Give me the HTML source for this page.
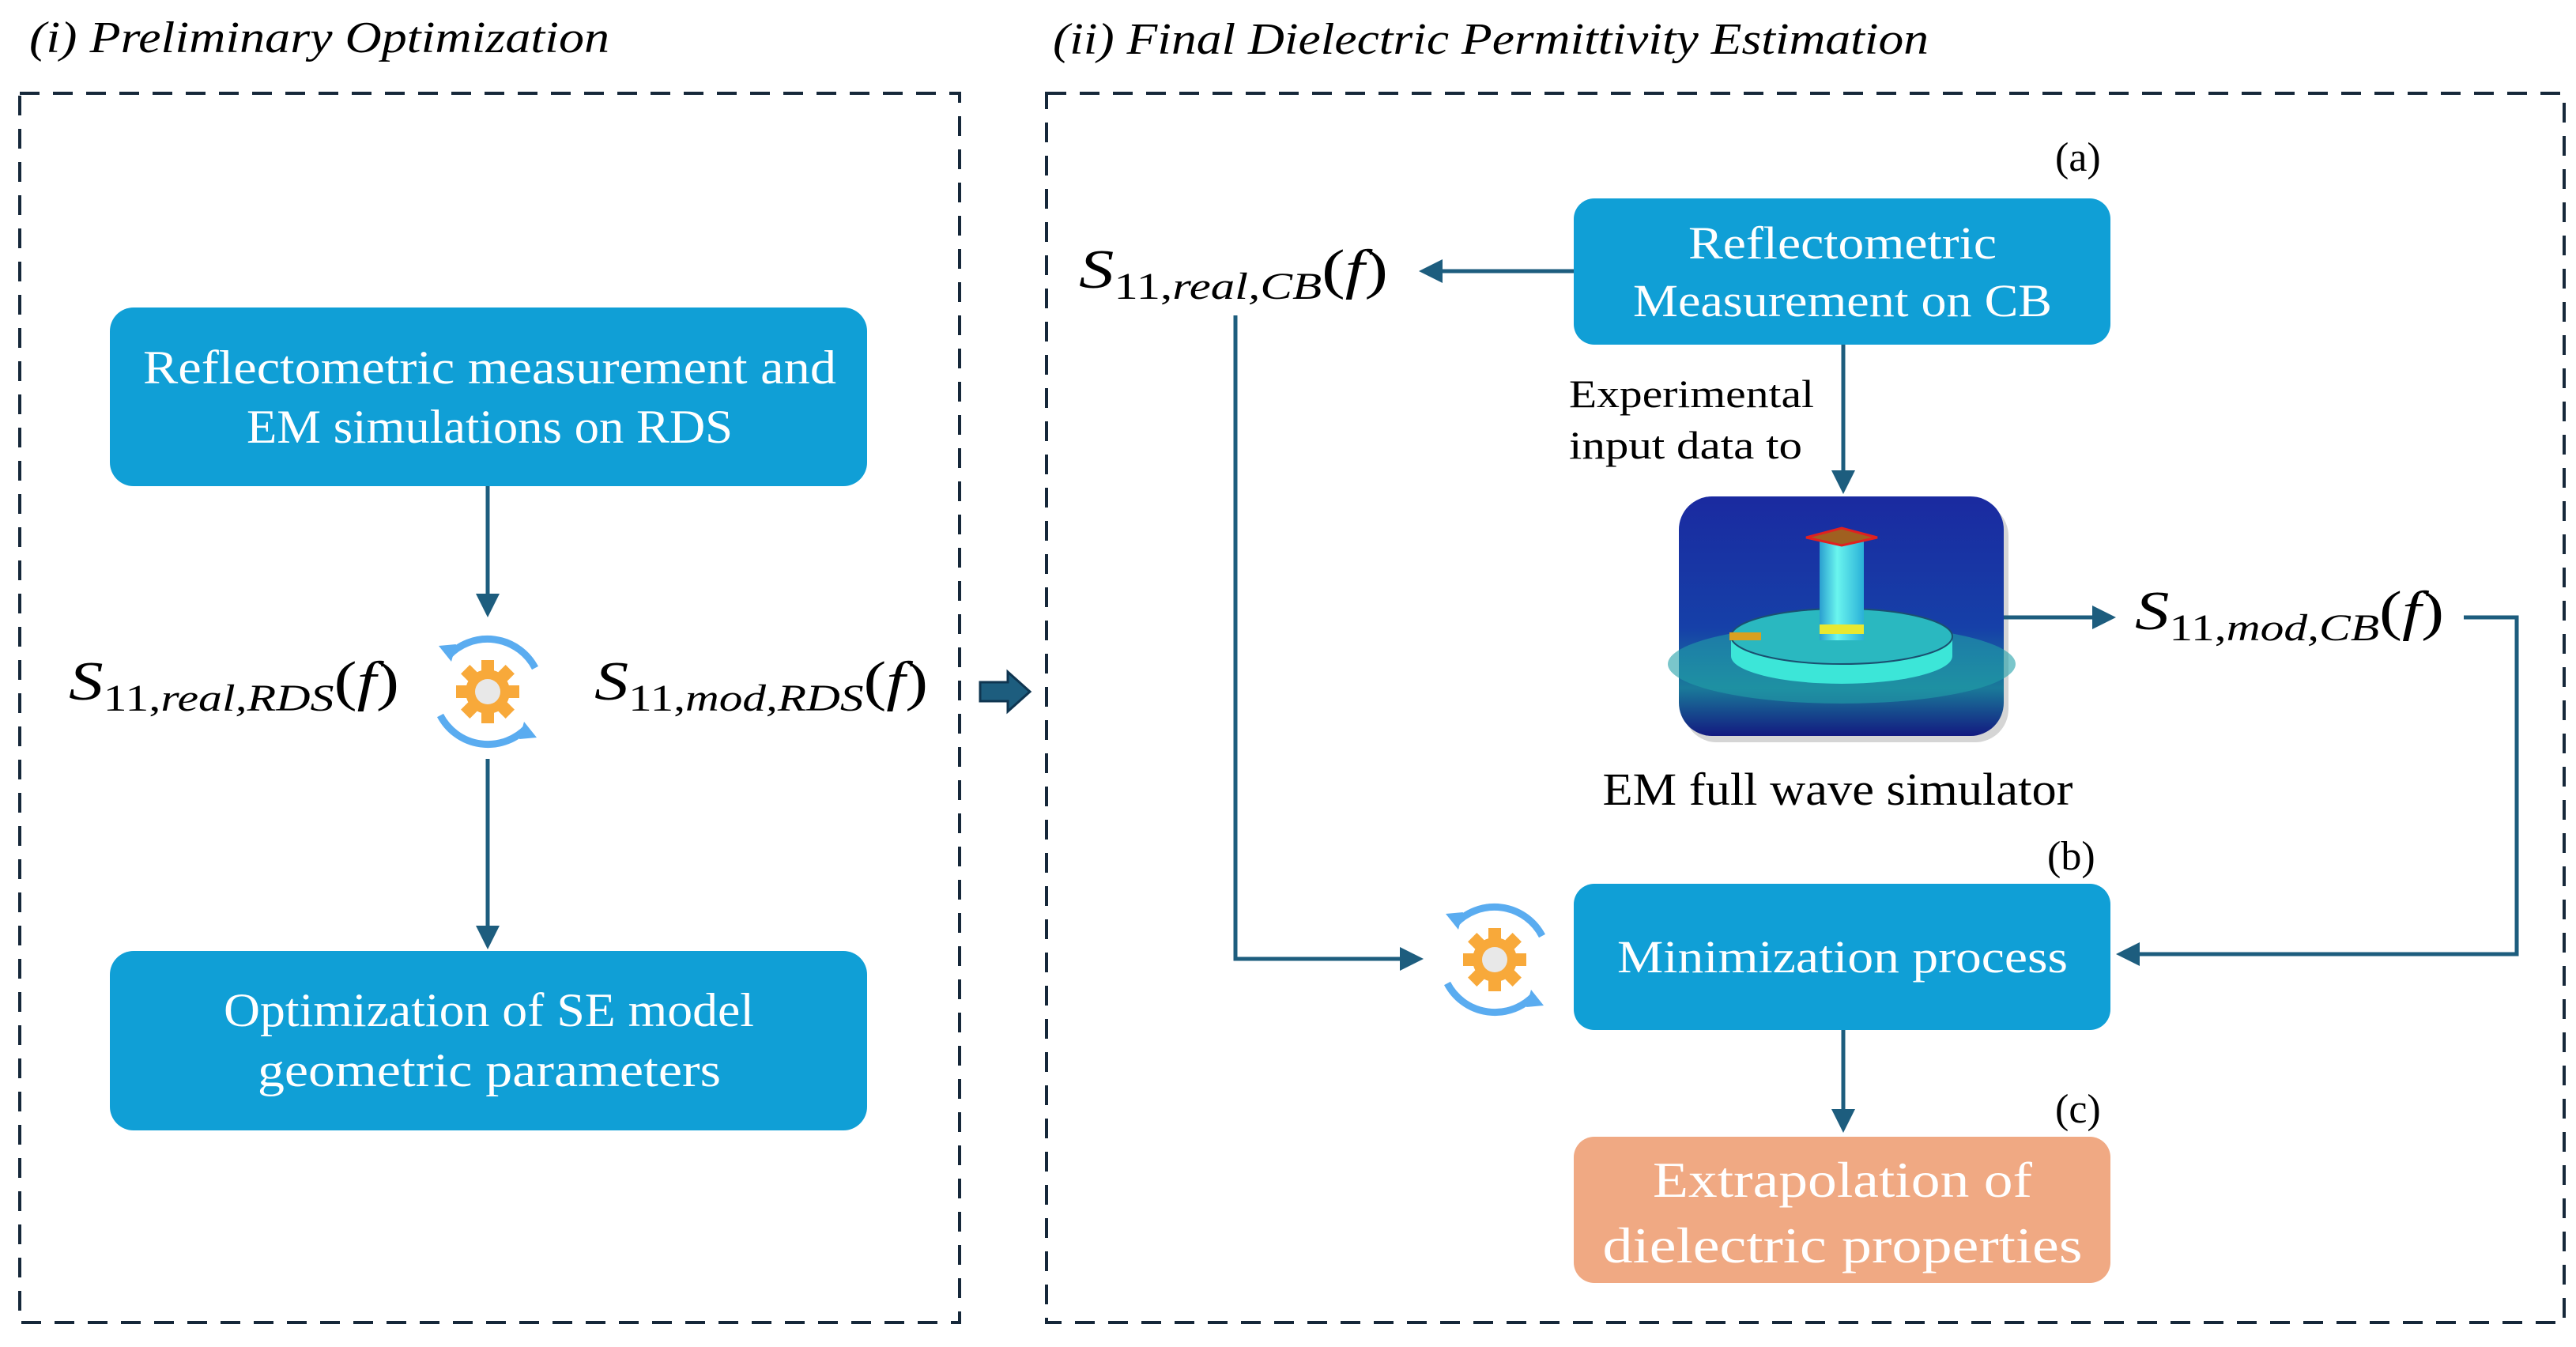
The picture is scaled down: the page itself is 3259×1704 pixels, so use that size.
<!DOCTYPE html>
<html><head><meta charset="utf-8"><style>html,body{margin:0;padding:0;background:#fff}svg{display:block}</style></head>
<body>
<svg width="3259" height="1704" viewBox="0 0 3259 1704" xmlns="http://www.w3.org/2000/svg" font-family="Liberation Serif, serif">
<defs>
<marker id="ah" markerWidth="6" markerHeight="6" refX="5" refY="3" orient="auto" markerUnits="strokeWidth"><path d="M0,0 L6,3 L0,6 Z" fill="#1d5d7e"/></marker>
<linearGradient id="sim" x1="0" y1="0" x2="0" y2="1"><stop offset="0" stop-color="#1a2aa0"/><stop offset="0.55" stop-color="#1640a8"/><stop offset="0.8" stop-color="#1a7a9a"/><stop offset="1" stop-color="#131a80"/></linearGradient>
<linearGradient id="cyl" x1="0" y1="0" x2="1" y2="0"><stop offset="0" stop-color="#2a9fd0"/><stop offset="0.4" stop-color="#6af5ee"/><stop offset="1" stop-color="#2ab0d8"/></linearGradient>
<g id="gear">
<path d="M-50,-45 A68,68 0 0 1 60,-30" fill="none" stroke="#5aacf0" stroke-width="9"/>
<path d="M50,45 A68,68 0 0 1 -60,30" fill="none" stroke="#5aacf0" stroke-width="9"/>
<path d="M-62,-58 l22,-2 l-6,22 z" fill="#5aacf0"/>
<path d="M62,58 l-22,2 l6,-22 z" fill="#5aacf0"/>
<circle r="28" fill="#f8a93a"/>
<g fill="#f8a93a"><rect x="-8" y="-40" width="16" height="80"/><rect x="-40" y="-8" width="80" height="16"/><rect x="-8" y="-40" width="16" height="80" transform="rotate(45)"/><rect x="-8" y="-40" width="16" height="80" transform="rotate(-45)"/></g>
<circle r="16" fill="#e8e8e8"/>
</g>
</defs>

<!-- Panel i -->
<text x="37" y="66" font-size="56" font-style="italic" textLength="734" lengthAdjust="spacingAndGlyphs">(i) Preliminary Optimization</text>
<rect x="25" y="118" width="1189" height="1555" fill="none" stroke="#16283a" stroke-width="4" stroke-dasharray="25,17"/>
<rect x="139" y="389" width="958" height="226" rx="30" fill="#109fd6"/>
<text x="181" y="485" font-size="60" fill="#fff" textLength="877" lengthAdjust="spacingAndGlyphs">Reflectometric measurement and</text>
<text x="312" y="560" font-size="60" fill="#fff" textLength="615" lengthAdjust="spacingAndGlyphs">EM simulations on RDS</text>
<line x1="617" y1="615" x2="617" y2="776" stroke="#1d5d7e" stroke-width="5" marker-end="url(#ah)"/>
<use href="#gear" transform="translate(617,875)"/>
<line x1="617" y1="960" x2="617" y2="1196" stroke="#1d5d7e" stroke-width="5" marker-end="url(#ah)"/>
<rect x="139" y="1203" width="958" height="227" rx="30" fill="#109fd6"/>
<text x="283" y="1298" font-size="60" fill="#fff" textLength="671" lengthAdjust="spacingAndGlyphs">Optimization of SE model</text>
<text x="326" y="1374" font-size="60" fill="#fff" textLength="586" lengthAdjust="spacingAndGlyphs">geometric parameters</text>
<text x="87" y="885" font-size="70" textLength="418" lengthAdjust="spacingAndGlyphs"><tspan font-style="italic">S</tspan><tspan font-size="48" dy="14">11,</tspan><tspan font-size="48" font-style="italic">real,RDS</tspan><tspan dy="-14">(</tspan><tspan font-style="italic">f</tspan>)</text>
<text x="752" y="885" font-size="70" textLength="422" lengthAdjust="spacingAndGlyphs"><tspan font-style="italic">S</tspan><tspan font-size="48" dy="14">11,</tspan><tspan font-size="48" font-style="italic">mod,RDS</tspan><tspan dy="-14">(</tspan><tspan font-style="italic">f</tspan>)</text>
<path d="M1240,863 h35 v-13 l28,25 l-28,25 v-13 h-35 z" fill="#1d5d7e" stroke="#0f3550" stroke-width="3"/>

<!-- Panel ii -->
<text x="1332" y="68" font-size="56" font-style="italic" textLength="1108" lengthAdjust="spacingAndGlyphs">(ii) Final Dielectric Permittivity Estimation</text>
<rect x="1324" y="118" width="1920" height="1555" fill="none" stroke="#16283a" stroke-width="4" stroke-dasharray="25,17"/>
<text x="2600" y="216" font-size="52">(a)</text>
<rect x="1991" y="251" width="679" height="185" rx="26" fill="#109fd6"/>
<text x="2331" y="327" font-size="58" fill="#fff" text-anchor="middle" textLength="390" lengthAdjust="spacingAndGlyphs">Reflectometric</text>
<text x="2331" y="400" font-size="58" fill="#fff" text-anchor="middle" textLength="530" lengthAdjust="spacingAndGlyphs">Measurement on CB</text>
<line x1="1991" y1="343" x2="1800" y2="343" stroke="#1d5d7e" stroke-width="5" marker-end="url(#ah)"/>
<text x="1365" y="364" font-size="70" textLength="391" lengthAdjust="spacingAndGlyphs"><tspan font-style="italic">S</tspan><tspan font-size="48" dy="14">11,</tspan><tspan font-size="48" font-style="italic">real,CB</tspan><tspan dy="-14">(</tspan><tspan font-style="italic">f</tspan>)</text>
<polyline points="1563,399 1563,1213 1796,1213" fill="none" stroke="#1d5d7e" stroke-width="5" marker-end="url(#ah)"/>
<line x1="2332" y1="436" x2="2332" y2="620" stroke="#1d5d7e" stroke-width="5" marker-end="url(#ah)"/>
<text x="1985" y="515" font-size="50" textLength="310" lengthAdjust="spacingAndGlyphs">Experimental</text>
<text x="1985" y="580" font-size="50" textLength="295" lengthAdjust="spacingAndGlyphs">input data to</text>
<!-- simulator image -->
<rect x="2130" y="636" width="411" height="303" rx="42" fill="#888" opacity="0.35"/>
<rect x="2124" y="628" width="411" height="303" rx="42" fill="url(#sim)"/>
<ellipse cx="2330" cy="840" rx="220" ry="50" fill="#22a0a8" opacity="0.6"/>
<path d="M2190,805 v25 a140,35 0 0 0 280,0 v-25 z" fill="#3ce6d8"/>
<ellipse cx="2330" cy="805" rx="140" ry="35" fill="#2ab8c0" stroke="#1a5070" stroke-width="2"/>
<rect x="2302" y="680" width="56" height="130" fill="url(#cyl)"/>
<rect x="2302" y="790" width="56" height="12" fill="#e8e830"/>
<path d="M2285,680 l45,-12 l45,12 l-45,10 z" fill="#a06020" stroke="#e02020" stroke-width="3"/>
<rect x="2188" y="800" width="40" height="10" fill="#d8a020"/>
<line x1="2535" y1="781" x2="2672" y2="781" stroke="#1d5d7e" stroke-width="5" marker-end="url(#ah)"/>
<text x="2701" y="796" font-size="70" textLength="391" lengthAdjust="spacingAndGlyphs"><tspan font-style="italic">S</tspan><tspan font-size="48" dy="14">11,</tspan><tspan font-size="48" font-style="italic">mod,CB</tspan><tspan dy="-14">(</tspan><tspan font-style="italic">f</tspan>)</text>
<polyline points="3117,781 3184,781 3184,1207 2682,1207" fill="none" stroke="#1d5d7e" stroke-width="5" marker-end="url(#ah)"/>
<text x="2325" y="1018" font-size="58" text-anchor="middle" textLength="595" lengthAdjust="spacingAndGlyphs">EM full wave simulator</text>
<text x="2590" y="1100" font-size="52">(b)</text>
<rect x="1991" y="1118" width="679" height="185" rx="26" fill="#109fd6"/>
<text x="2331" y="1230" font-size="58" fill="#fff" text-anchor="middle" textLength="570" lengthAdjust="spacingAndGlyphs">Minimization process</text>
<use href="#gear" transform="translate(1891,1214)"/>
<line x1="2332" y1="1303" x2="2332" y2="1428" stroke="#1d5d7e" stroke-width="5" marker-end="url(#ah)"/>
<text x="2600" y="1420" font-size="52">(c)</text>
<rect x="1991" y="1438" width="679" height="185" rx="26" fill="#f0a983"/>
<text x="2331" y="1514" font-size="64" fill="#fff" text-anchor="middle" textLength="480" lengthAdjust="spacingAndGlyphs">Extrapolation of</text>
<text x="2331" y="1597" font-size="64" fill="#fff" text-anchor="middle" textLength="607" lengthAdjust="spacingAndGlyphs">dielectric properties</text>
</svg>
</body></html>
